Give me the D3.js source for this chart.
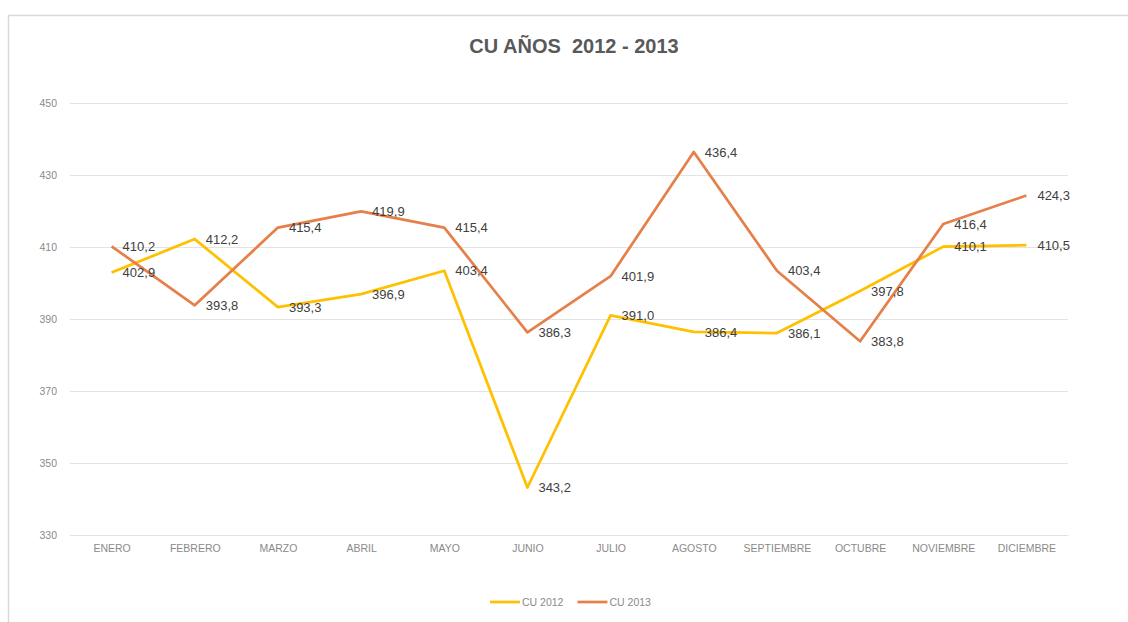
<!DOCTYPE html>
<html>
<head>
<meta charset="utf-8">
<script src="https://cdn.jsdelivr.net/npm/d3@7"></script>
<style>
  html, body { margin: 0; padding: 0; background: #ffffff; }
  svg { display: block; }
</style>
</head>
<body>
<svg id="chart" width="1128" height="622"></svg>
<script>
// Monthly CU values for 2012 and 2013
const months = ["ENERO", "FEBRERO", "MARZO", "ABRIL", "MAYO", "JUNIO", "JULIO",
  "AGOSTO", "SEPTIEMBRE", "OCTUBRE", "NOVIEMBRE", "DICIEMBRE"];
const cu2012 = [402.9, 412.2, 393.3, 396.9, 403.4, 343.2, 391.0, 386.4, 386.1, 397.8, 410.1, 410.5];
const cu2013 = [410.2, 393.8, 415.4, 419.9, 415.4, 386.3, 401.9, 436.4, 403.4, 383.8, 416.4, 424.3];
const yTicks = [330, 350, 370, 390, 410, 430, 450];
const seriesNames = ["CU 2012", "CU 2013"];
const title = "CU AÑOS  2012 - 2013";

const colors = ["#FFC000", "#E5804A"];
const series = [cu2012, cu2013].map((vals, i) => ({
  name: seriesNames[i],
  color: colors[i],
  values: vals.map((v, j) => ({ month: months[j], value: v }))
}));

const svg = d3.select("#chart");
const fmt = v => d3.format(".1f")(v).replace(".", ",");
const narrow = "'Liberation Sans Narrow', 'Arial Narrow', 'Liberation Sans', sans-serif";

// chart frame
svg.append("rect")
  .attr("x", 8.5).attr("y", 15.5)
  .attr("width", 1200).attr("height", 700)
  .attr("fill", "#ffffff")
  .attr("stroke", "#d9d9d9").attr("stroke-width", 1.5);

const plot = { left: 70, right: 1068, top: 103, bottom: 535 };

const x = d3.scalePoint()
  .domain(months)
  .range([plot.left, plot.right])
  .padding(0.5);

const y = d3.scaleLinear()
  .domain([330, 450])
  .range([plot.bottom, plot.top]);

// horizontal gridlines
const grid = d3.axisLeft(y)
  .tickValues(yTicks)
  .tickSize(-(plot.right - plot.left))
  .tickFormat("");
svg.append("g")
  .attr("transform", `translate(${plot.left},0)`)
  .call(grid)
  .call(g => g.select(".domain").remove())
  .call(g => g.selectAll("line").attr("stroke", "#e3e3e3").attr("stroke-width", 1));

// y axis labels
const yAxis = d3.axisLeft(y).tickValues(yTicks).tickSize(0).tickPadding(13);
svg.append("g")
  .attr("transform", `translate(${plot.left},0)`)
  .call(yAxis)
  .call(g => g.select(".domain").remove())
  .call(g => g.selectAll("text")
    .attr("fill", "#8a8a8a")
    .style("font-family", narrow)
    .style("font-size", "10.5px"));

// x axis labels
const xAxis = d3.axisBottom(x).tickSize(0).tickPadding(10);
svg.append("g")
  .attr("transform", `translate(0,${plot.bottom})`)
  .call(xAxis)
  .call(g => g.select(".domain").attr("stroke", "#e3e3e3"))
  .call(g => g.selectAll("text")
    .attr("fill", "#8a8a8a")
    .style("font-family", narrow)
    .style("font-size", "10.5px"));

// title
svg.append("text")
  .attr("x", 574).attr("y", 53)
  .attr("text-anchor", "middle")
  .attr("fill", "#595959")
  .style("font-family", "'Liberation Sans', Arial, sans-serif")
  .style("font-weight", "bold")
  .style("font-size", "20px")
  .style("white-space", "pre")
  .text(title);

// lines
const line = d3.line()
  .x(d => x(d.month))
  .y(d => y(d.value));

svg.append("g").selectAll("path")
  .data(series)
  .join("path")
  .attr("d", d => line(d.values))
  .attr("fill", "none")
  .attr("stroke", d => d.color)
  .attr("stroke-width", 2.75)
  .attr("stroke-linejoin", "round");

// data labels, right of each point
series.forEach(s => {
  svg.append("g").selectAll("text")
    .data(s.values)
    .join("text")
    .attr("x", d => x(d.month) + 11)
    .attr("y", d => y(d.value))
    .attr("dy", "0.36em")
    .attr("fill", "#404040")
    .style("font-family", "'Liberation Sans', Arial, sans-serif")
    .style("font-size", "13px")
    .text(d => fmt(d.value));
});

// legend
const legend = svg.append("g").attr("transform", "translate(490,602)");
let lx = 0;
series.forEach(s => {
  legend.append("line")
    .attr("x1", lx).attr("x2", lx + 30)
    .attr("y1", 0).attr("y2", 0)
    .attr("stroke", s.color).attr("stroke-width", 2.75);
  const t = legend.append("text")
    .attr("x", lx + 32).attr("y", 0)
    .attr("dy", "0.35em")
    .attr("fill", "#8a8a8a")
    .style("font-family", narrow)
    .style("font-size", "10.5px")
    .text(s.name);
  lx += 32 + t.node().getComputedTextLength() + 14;
});
</script>
</body>
</html>
